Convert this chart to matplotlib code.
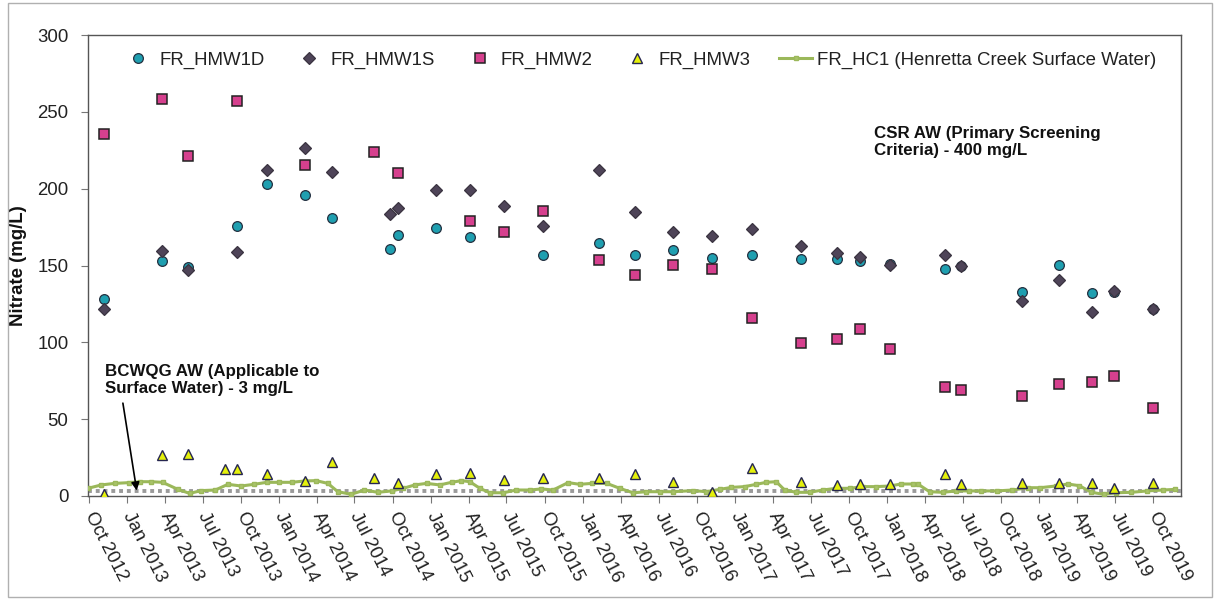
import numpy as np
import pandas as pd
import matplotlib
matplotlib.use("Agg")
import matplotlib.pyplot as plt
from matplotlib.patches import Rectangle

plt.rcParams['font.family'] = ['Liberation Sans', 'DejaVu Sans']

# groundwater sampling dates
gw_dates = [
    "2012-11-06", "2013-03-26", "2013-05-26", "2013-08-24", "2013-09-23",
    "2013-12-03", "2014-03-04", "2014-05-08", "2014-08-17", "2014-09-24",
    "2014-10-14", "2015-01-12", "2015-04-04", "2015-06-25", "2015-09-27",
    "2016-02-09", "2016-05-04", "2016-08-03", "2016-11-05", "2017-02-09",
    "2017-06-07", "2017-09-03", "2017-10-27", "2018-01-08", "2018-05-20",
    "2018-06-27", "2018-11-19", "2019-02-18", "2019-05-08", "2019-06-30",
    "2019-09-30",
]
N = None
hmw1d = [128.5, 153, 149, N, 176, 203, 196, 181, N, 161,
         170, 174.5, 168.5, N, 157, 164.5, 157, 160, 155, 157,
         154.5, 154.5, 153, 151, 148, 150, 133, 150.5, 132, 133,
         122]
hmw1s = [121.5, 159.5, 147, N, 158.5, 212, 226.5, 211, N, 183.5,
         187.5, 199, 199, 189, 176, 212, 184.5, 172, 169, 173.5,
         162.5, 158, 155.5, 150.5, 157, 149.5, 127, 140.5, 119.5, 133.5,
         121.5]
hmw2 = [235.5, 258.5, 221, N, 257, N, 215.5, N, 224, N,
        210, N, 179, 171.5, 185.5, 153.5, 144, 150.5, 148, 116,
        99.5, 102, 108.5, 95.5, 71, 69, 65, 73, 74.5, 78,
        57]
hmw3 = [1.5, 26.5, 27.5, 17.3, 17.3, 14.3, 10, 22, 11.5, N,
        8.7, 14, 14.7, 10.4, 11.9, 11.5, 14.3, 9.3, 2.8, 18.4,
        8.9, 7.2, 7.8, 7.8, 14.3, 7.8, 8.5, 8.5, 8.5, 5.4,
        8.7]

# Henretta Creek surface water
hc1_dates = [
    "2012-09-29", "2012-10-31", "2012-12-02", "2013-01-06", "2013-02-02",
    "2013-02-28", "2013-03-27", "2013-05-03", "2013-05-31", "2013-06-28",
    "2013-08-01", "2013-08-31", "2013-10-02", "2013-11-02", "2013-12-02",
    "2014-01-01", "2014-01-31", "2014-03-04", "2014-03-31", "2014-04-28",
    "2014-05-22", "2014-06-23", "2014-07-25", "2014-08-26", "2014-09-28",
    "2014-10-26", "2014-11-23", "2014-12-21", "2015-01-22", "2015-02-19",
    "2015-03-15", "2015-04-04", "2015-04-28", "2015-05-22", "2015-06-23",
    "2015-07-25", "2015-08-26", "2015-09-23", "2015-10-21", "2015-11-26",
    "2015-12-24", "2016-01-22", "2016-02-27", "2016-03-29", "2016-04-30",
    "2016-06-01", "2016-07-03", "2016-08-04", "2016-09-21", "2016-10-23",
    "2016-11-24", "2016-12-22", "2017-01-23", "2017-02-20", "2017-03-16",
    "2017-04-09", "2017-04-29", "2017-05-27", "2017-06-28", "2017-07-30",
    "2017-08-31", "2017-10-02", "2017-11-03", "2017-12-05", "2018-01-06",
    "2018-02-03", "2018-03-03", "2018-03-15", "2018-04-12", "2018-05-14",
    "2018-06-15", "2018-07-17", "2018-08-13", "2018-09-20", "2018-10-28",
    "2018-12-05", "2019-01-03", "2019-02-09", "2019-03-10", "2019-04-07",
    "2019-05-06", "2019-06-04", "2019-07-03", "2019-08-10", "2019-09-17",
    "2019-10-25", "2019-11-22",
]
hc1 = [
    5.0, 7.2, 8.2, 8.7, 9.3, 9.3, 8.9, 4.3, 1.7, 3.5,
    3.9, 7.6, 6.5, 7.6, 8.9, 8.9, 8.9, 9.8, 10.0, 8.2,
    2.8, 1.1, 3.9, 2.4, 3.3, 5.0, 7.2, 8.2, 7.2, 8.9,
    10.0, 9.3, 5.0, 2.1, 2.1, 3.9, 3.9, 4.6, 3.9, 8.7,
    7.6, 8.2, 8.2, 5.0, 2.1, 2.8, 2.8, 2.8, 3.5, 2.8,
    4.3, 5.6, 6.1, 7.6, 8.9, 9.3, 3.9, 2.4, 2.4, 3.9,
    5.0, 5.0, 6.1, 6.1, 6.5, 7.8, 7.8, 7.8, 2.8, 2.4,
    3.3, 3.3, 3.3, 3.3, 3.9, 5.4, 5.4, 6.5, 7.8, 6.7,
    2.4, 1.1, 2.1, 2.4, 3.3, 3.9, 4.3,
]

bcwqg_limit = 3
x_start, x_end = "2012-09-29", "2019-12-07"
tick_dates = pd.date_range("2012-10-01", "2019-10-01", freq="3MS")

gw_x = pd.to_datetime(gw_dates)
hc_x = pd.to_datetime(hc1_dates)

def arr(v):
    return np.array([np.nan if a is None else a for a in v], dtype=float)

fig = plt.figure(figsize=(12.23, 6.0), dpi=100)
ax = fig.add_axes([88 / 1223, 104 / 600, 1093 / 1223, 461 / 600])

# outer chart border
fig.patches.append(Rectangle((8 / 1223, 3 / 600), 1204 / 1223, 594 / 600,
                             transform=fig.transFigure, fill=False,
                             edgecolor="#b0b0b0", lw=1))

ax.plot([pd.Timestamp(x_start), pd.Timestamp(x_end)], [bcwqg_limit, bcwqg_limit],
        color="#9a9a9a", lw=2.8, linestyle=(0, (1, 1)), dash_capstyle="butt", zorder=2)

ax.plot(hc_x, hc1, color="#9bb85a", lw=2.2, marker="s", ms=3.5, mfc="#a9c46a",
        mec="#9bb85a", zorder=3, label="FR_HC1 (Henretta Creek Surface Water)")

ax.plot(gw_x, arr(hmw1d), "o", ms=7, mfc="#1f9fb0", mec="#233040", mew=0.9,
        zorder=5, label="FR_HMW1D")
ax.plot(gw_x, arr(hmw1s), "D", ms=5.8, mfc="#4e4458", mec="#3a3340", mew=0.9,
        zorder=6, label="FR_HMW1S")
ax.plot(gw_x, arr(hmw2), "s", ms=6.5, mfc="#d6408e", mec="#222222", mew=1.1,
        zorder=5, label="FR_HMW2")
ax.plot(gw_x, arr(hmw3), "^", ms=7.5, mfc="#e4f00c", mec="#262650", mew=1.0,
        zorder=5, label="FR_HMW3")

ax.set_ylim(0, 300)
ax.set_yticks(np.arange(0, 301, 50))
ax.set_xlim(pd.Timestamp(x_start), pd.Timestamp(x_end))
ax.set_xticks(tick_dates)
ax.set_xticklabels([d.strftime("%b %Y") for d in tick_dates], rotation=-63,
                   ha="left", va="center", rotation_mode="anchor")

for s in ax.spines.values():
    s.set_color("#555555")
    s.set_linewidth(1)
ax.tick_params(axis="both", direction="out", length=5, color="#777777",
               labelsize=13.4, labelcolor="#222222")
ax.tick_params(axis="x", pad=7)
ax.tick_params(axis="y", pad=9)

ax.set_ylabel("Nitrate (mg/L)", fontsize=13.4, fontweight="bold", color="#111111")
ax.yaxis.set_label_coords(-0.056, 0.5)

handles, labels = ax.get_legend_handles_labels()
order = [1, 2, 3, 4, 0]
ax.legend([handles[i] for i in order], [labels[i] for i in order],
          loc="center left", bbox_to_anchor=(33 / 1093, 1 - 25 / 461),
          ncol=5, frameon=False, fontsize=13.4, borderpad=0,
          handlelength=1.8, handletextpad=0.25, columnspacing=1.5,
          borderaxespad=0, labelcolor="#222222")

ax.text(pd.Timestamp("2017-11-30"), 241, "CSR AW (Primary Screening\nCriteria) - 400 mg/L",
        fontsize=12.2, fontweight="bold", va="top", ha="left", color="#111111",
        linespacing=1.2)

ax.annotate("BCWQG AW (Applicable to\nSurface Water) - 3 mg/L",
            xy=(pd.Timestamp("2013-01-24"), 3.5),
            xytext=(pd.Timestamp("2012-11-08"), 86),
            fontsize=12.2, fontweight="bold", va="top", ha="left", color="#111111",
            linespacing=1.2,
            arrowprops=dict(arrowstyle="-|>", color="black", lw=1.2,
                            mutation_scale=12, shrinkA=3, shrinkB=0,
                            relpos=(0.08, 0.0)))

fig.savefig("out.png", dpi=100)
